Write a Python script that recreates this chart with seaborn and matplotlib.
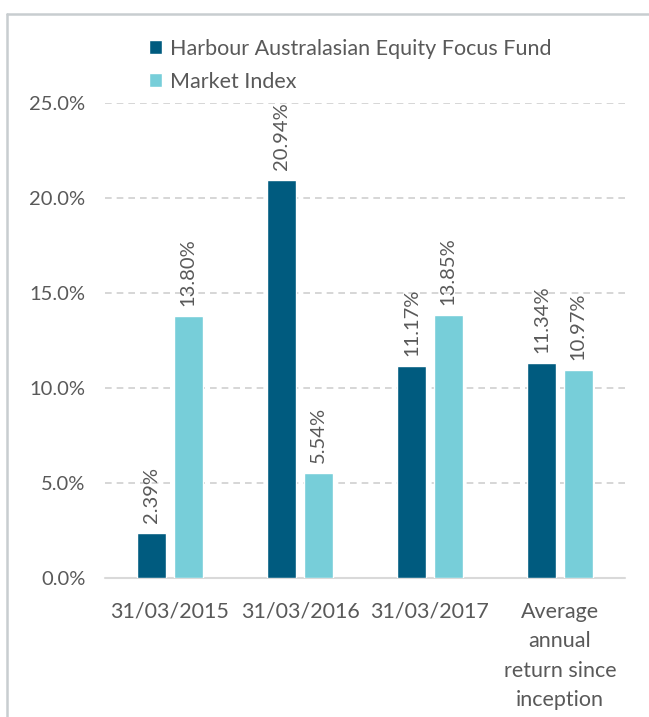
import matplotlib
matplotlib.use("Agg")
import matplotlib.pyplot as plt
import seaborn as sns
import pandas as pd
from matplotlib.ticker import FuncFormatter, MultipleLocator
from matplotlib.lines import Line2D

categories = ["31/03/2015", "31/03/2016", "31/03/2017",
              "Average\nannual\nreturn since\ninception"]
series_names = ["Harbour Australasian Equity Focus Fund", "Market Index"]
fund_values = [2.39, 20.94, 11.17, 11.34]
index_values = [13.80, 5.54, 13.85, 10.97]
colors = ["#005B7F", "#77CED9"]

df = pd.DataFrame({
    "category": categories * 2,
    "series": [series_names[0]] * 4 + [series_names[1]] * 4,
    "value": fund_values + index_values,
})

sns.set_theme(style="white")
plt.rcParams["font.family"] = ["Lato", "DejaVu Sans"]
text_color = "#595959"

fig = plt.figure(figsize=(6.49, 7.17), dpi=100)
W, H = 649, 717
ax = fig.add_axes([105 / W, 1 - 578 / H, 520 / W, 475 / H])

sns.barplot(data=df, x="category", y="value", hue="series",
            palette=colors, width=0.56, gap=0.2, ax=ax,
            saturation=1, errorbar=None, legend=True)

ax.set_ylim(0, 25)
ax.set_xlim(-0.5, 3.5)
ax.yaxis.set_major_locator(MultipleLocator(5))
ax.yaxis.set_major_formatter(FuncFormatter(lambda v, p: f"{v:.1f}%"))
ax.set_xlabel("")
ax.set_ylabel("")
for s in ax.spines.values():
    s.set_visible(False)
ax.set_xticks(range(len(categories)))
ax.set_xticklabels(categories, linespacing=1.6)
ax.tick_params(axis="y", length=0, labelsize=14.5, colors=text_color, pad=14)
ax.tick_params(axis="x", length=0, labelsize=15.5, colors=text_color, pad=17)

ax.set_axisbelow(True)
for v in [5, 10, 15, 20, 25]:
    ax.axhline(v, color="#D0D0D0", lw=1.2, ls=(0, (4, 3)), zorder=0)
ax.axhline(0, color="#D9D9D9", lw=1.5, zorder=0.5, clip_on=False)

for cont in ax.containers:
    ax.bar_label(cont, labels=[f"{v:.2f}%" for v in cont.datavalues],
                 rotation=90, padding=7, fontsize=14.5, color=text_color)

leg = ax.legend(loc="upper left", bbox_to_anchor=(140 / W, 1 - 30 / H),
                bbox_transform=fig.transFigure, frameon=False,
                fontsize=15.5, handlelength=0.6, handleheight=0.6,
                handletextpad=0.4, labelspacing=0.6, borderaxespad=0)
for t in leg.get_texts():
    t.set_color(text_color)

border = "#C8CDD0"
fig.add_artist(Line2D([7 / W, 7 / W], [0, 1 - 14 / H], color=border, lw=1.8))
fig.add_artist(Line2D([7 / W, 1], [1 - 14 / H, 1 - 14 / H], color=border, lw=1.8))

fig.savefig("out.png", dpi=100)
